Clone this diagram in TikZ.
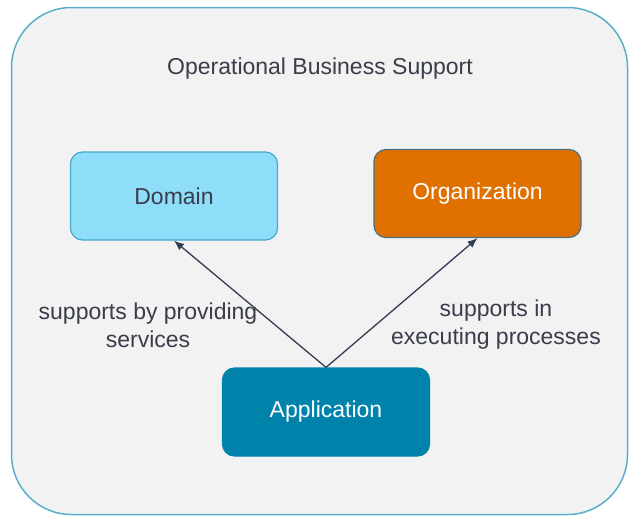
\documentclass[tikz,border=0pt]{standalone}
\usepackage{fontspec}
\setmainfont{Liberation Sans}
\usetikzlibrary{positioning,arrows.meta}

\definecolor{framefill}{HTML}{F2F2F2}
\definecolor{frameline}{HTML}{5AAFC8}
\definecolor{domainfill}{HTML}{8EDDF9}
\definecolor{domainline}{HTML}{45A9CC}
\definecolor{orgfill}{HTML}{E07000}
\definecolor{orgline}{HTML}{4A7080}
\definecolor{appfill}{HTML}{0083AA}
\definecolor{inkgray}{HTML}{3A3D4A}
\definecolor{arrowblue}{HTML}{333B55}

\begin{document}
\begin{tikzpicture}[
        x=1pt, y=-1pt,
        font=\fontsize{23}{28}\selectfont,
    frame/.style={
        draw=frameline,
        fill=framefill,
        line width=1.5pt,
        rounded corners=60pt,
        minimum width=616pt,
        minimum height=507pt
    },
    box/.style={
        rounded corners=12pt,
        line width=1.2pt,
        minimum width=207pt,
        minimum height=88pt
    },
    label/.style={
        draw=none,
        text=inkgray,
        align=center
    },
    link/.style={
        draw=arrowblue,
        line width=1.3pt,
        -{Latex[length=10pt,width=8pt]}
    }
    ]

    \useasboundingbox (0,0) rectangle (630,517);

    \node[frame] (frame) at (319.5,261) {};
    \node[label] (title) at (320,69) {Operational Business Support};

    \node[box, draw=domainline, fill=domainfill, text=inkgray] (domain) at (174,196) {Domain};
    \node[box, draw=orgline, fill=orgfill, text=white] (organization) at (477.5,193.5) {Organization};
    \node[box, draw=appfill, fill=appfill, text=white] (application) at (326,412) {Application};

    \draw[link] (application.north) -- (domain.south);
    \draw[link] (application.north) -- (organization.south);

    \node[label] (provides) at (148,325) {supports by providing\\services};
    \node[label] (executes) at (496,325) {supports in\\executing processes};
\end{tikzpicture}
\end{document}
